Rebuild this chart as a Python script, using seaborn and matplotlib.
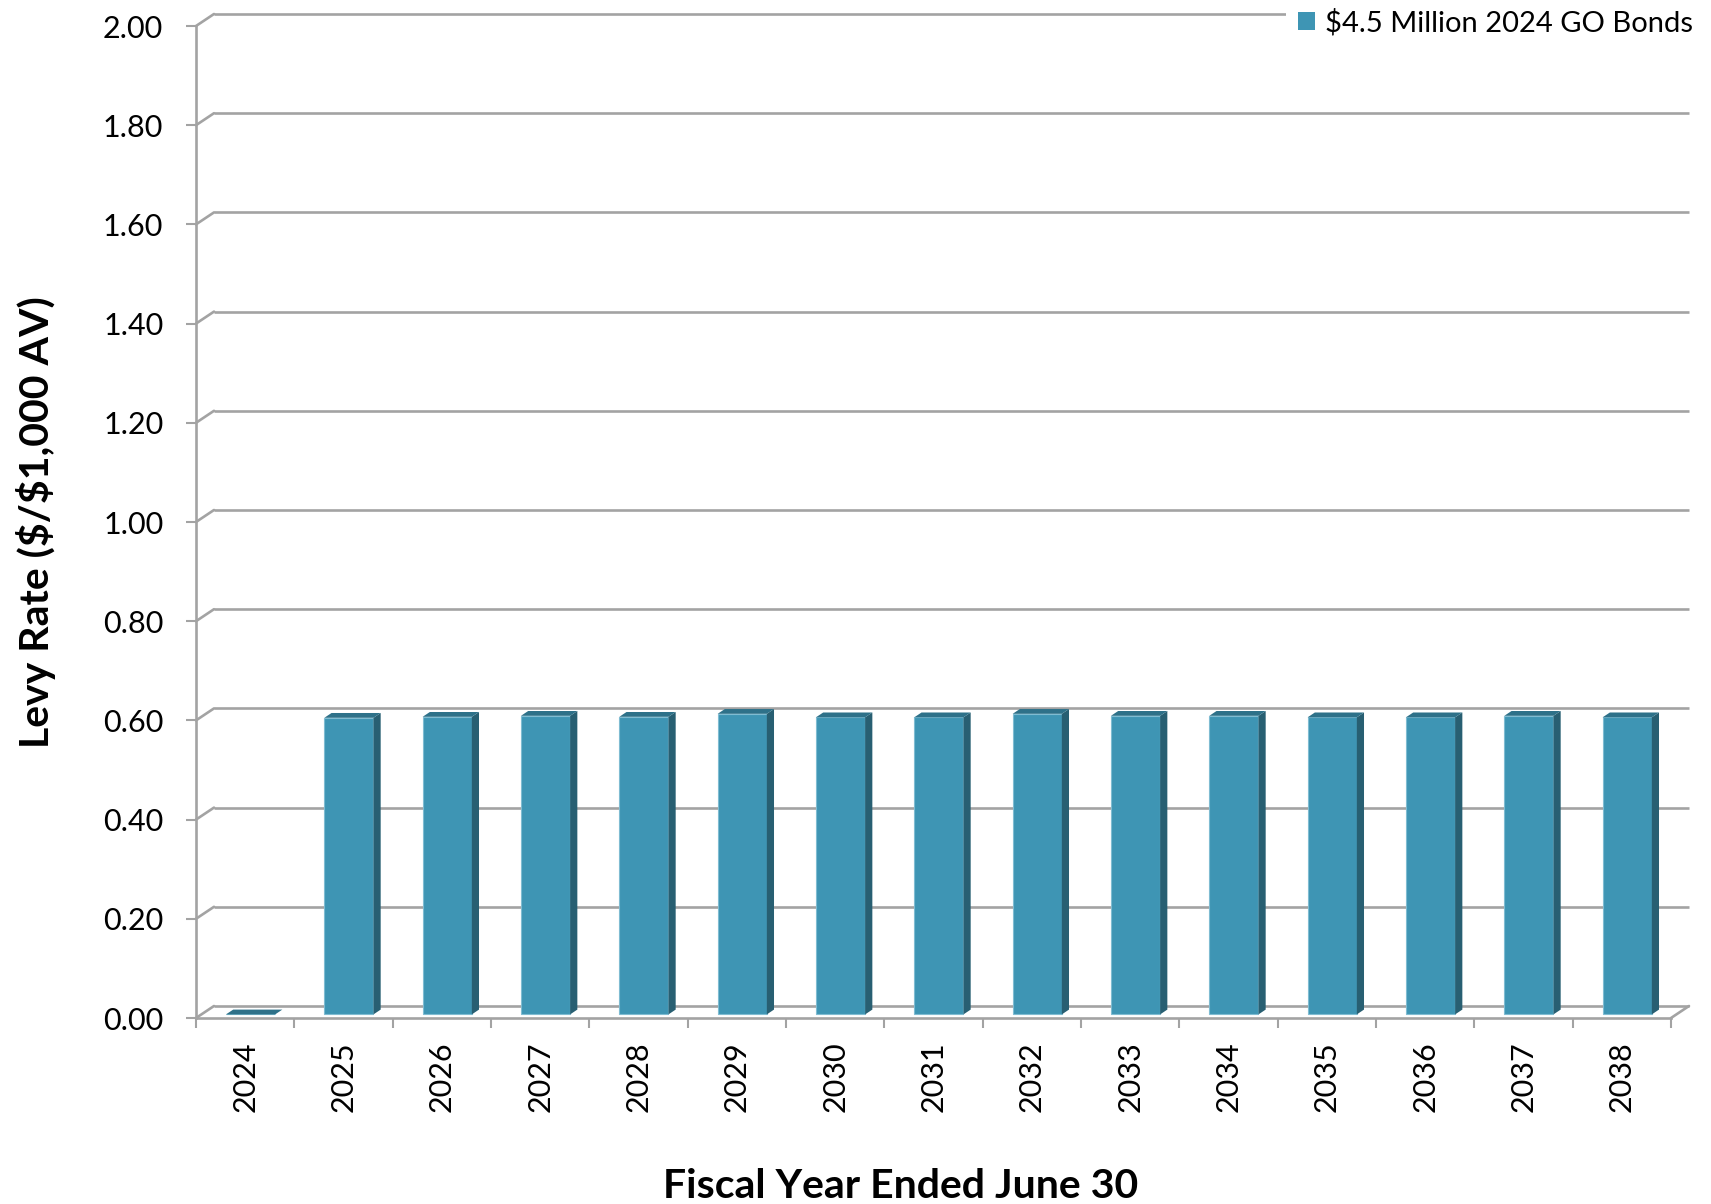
import matplotlib
matplotlib.use("Agg")
import matplotlib.pyplot as plt
from matplotlib.patches import Polygon, Patch
from matplotlib.ticker import FixedLocator
import seaborn as sns
import pandas as pd

# Levy rate per fiscal year ($ per $1,000 of assessed value)
years = [str(y) for y in range(2024, 2039)]
levy_rate = [0.000, 0.598, 0.600, 0.602, 0.600, 0.606, 0.599, 0.599,
             0.606, 0.602, 0.602, 0.599, 0.599, 0.602, 0.599]
y_ticks = [0.0, 0.2, 0.4, 0.6, 0.8, 1.0, 1.2, 1.4, 1.6, 1.8, 2.0]
series_name = "$4.5 Million 2024 GO Bonds"

df = pd.DataFrame({"year": years, "rate": levy_rate})

sns.set_theme(style="white")
plt.rcParams["font.family"] = ["Lato", "DejaVu Sans"]
plt.rcParams["text.color"] = "black"
plt.rcParams["axes.labelcolor"] = "black"

FRONT = "#3E95B4"
SIDE = "#285F72"
TOP = "#2E7189"
GRID = "#A3A3A3"

W, H = 1711, 1204
fig = plt.figure(figsize=(W / 100, H / 100), dpi=100)
x_left, x_right, y_top, y_bot = 196, 1671, 26, 1018
ax = fig.add_axes([x_left / W, (H - y_bot) / H,
                   (x_right - x_left) / W, (y_bot - y_top) / H])

sns.barplot(data=df, x="year", y="rate", color=FRONT, width=0.5,
            saturation=1, ax=ax, zorder=3, edgecolor="#7FBCD2", linewidth=0.8)

ax.set_xlim(-0.5, len(years) - 0.5)
ax.set_ylim(0, 2.0)

# depth of the 3-D box in data units
DX = 0.183
DY = 0.0242

# back wall gridlines with their slanted left ends
x0, x1 = -0.5, len(years) - 0.5
for v in y_ticks:
    ax.plot([x0 + DX, x1 + DX], [v + DY, v + DY], color=GRID, lw=1.9,
            clip_on=False, zorder=1, solid_capstyle="butt")
    ax.plot([x0, x0 + DX], [v, v + DY], color=GRID, lw=1.9,
            clip_on=False, zorder=1)
# floor right edge
ax.plot([x1, x1 + DX], [0, DY], color=GRID, lw=1.9, clip_on=False, zorder=1)

# give every bar depth: shift the face into the box, add top and side faces
f0, f1 = 0.3, 0.4
for p in ax.patches:
    bx, bw, bh = p.get_x(), p.get_width(), p.get_height()
    bx += f0 * DX
    by = f0 * DY
    p.set_x(bx)
    p.set_y(by)
    xa, xb = bx, bx + bw
    yb, yt = by, by + bh
    ddx, ddy = f1 * DX, f1 * DY
    ax.add_patch(Polygon([(xb, yb), (xb + ddx, yb + ddy), (xb + ddx, yt + ddy), (xb, yt)],
                         closed=True, facecolor=SIDE, edgecolor="none", zorder=3, clip_on=False))
    ax.add_patch(Polygon([(xa, yt), (xb, yt), (xb + ddx, yt + ddy), (xa + ddx, yt + ddy)],
                         closed=True, facecolor=TOP, edgecolor="none", zorder=3, clip_on=False))

for side in ["top", "right"]:
    ax.spines[side].set_visible(False)
for side in ["left", "bottom"]:
    ax.spines[side].set_color(GRID)
    ax.spines[side].set_linewidth(1.9)
    ax.spines[side].set_zorder(2)

ax.set_yticks(y_ticks)
ax.set_yticklabels([f"{v:.2f}" for v in y_ticks])
ax.xaxis.set_minor_locator(FixedLocator([i - 0.5 for i in range(len(years) + 1)]))
ax.tick_params(axis="y", which="major", left=True, length=7.5, width=1.5,
               color=GRID, pad=16, labelsize=22, labelcolor="black")
ax.tick_params(axis="x", which="major", bottom=True, length=0, pad=17,
               labelsize=22, labelcolor="black", labelrotation=90)
ax.tick_params(axis="x", which="minor", bottom=True, length=7.5, width=1.5, color=GRID)

ax.set_xlabel("Fiscal Year Ended June 30", fontsize=29.5, fontweight="bold",
              labelpad=40, color="black")
ax.xaxis.label.set_x(0.478)
ax.set_ylabel(r"Levy Rate (\$/\$1,000 AV)", fontsize=29.5, fontweight="bold",
              labelpad=34, color="black")
ax.grid(False)

handle = Patch(facecolor=FRONT, edgecolor="none")
leg = fig.legend([handle], [series_name], loc="upper right",
                 bbox_to_anchor=(0.9965, 1.0025), fontsize=21, frameon=True,
                 facecolor="white", edgecolor="none", fancybox=False,
                 handlelength=0.6, handleheight=0.6, handletextpad=0.35,
                 borderpad=0.4, borderaxespad=0.0)
leg.get_frame().set_alpha(1.0)
leg.set_zorder(10)

fig.savefig("out.png", dpi=100, facecolor="white")
